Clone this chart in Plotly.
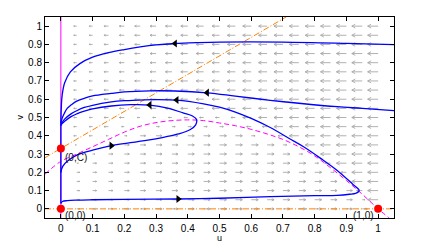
import plotly.graph_objects as go
import numpy as np

# ---------------- data ----------------
tick_vals = [0, 0.1, 0.2, 0.3, 0.4, 0.5, 0.6, 0.7, 0.8, 0.9, 1.0]
tick_text = ["0", "0.1", "0.2", "0.3", "0.4", "0.5", "0.6", "0.7", "0.8", "0.9", "1"]

# u-nullcline (magenta dashed curve)
null_u = [-0.05, 0.0, 0.05, 0.1, 0.15, 0.2, 0.25, 0.3, 0.35, 0.4, 0.45, 0.5, 0.55,
          0.6, 0.65, 0.7, 0.75, 0.8, 0.85, 0.9, 0.95, 1.0, 1.035]
null_v = [0.19, 0.26, 0.30, 0.34, 0.38, 0.42, 0.452, 0.472, 0.483, 0.487, 0.483, 0.47, 0.455,
          0.435, 0.41, 0.38, 0.34, 0.29, 0.225, 0.155, 0.08, 0.0, -0.05]

# v-nullcline (orange dash-dot line) end points
orange_u = [-0.05, 0.71]
orange_v = [0.28, 1.05]

# equilibria
eq_u = [0.0, 0.0, 1.0]
eq_v = [0.0, 0.33, 0.0]
eq_lab = ["(0,0)", "(0,C)", "(1,0)"]

# trajectories (blue)
trajA_u = [1.05, 0.9, 0.7, 0.5, 0.43, 0.36, 0.3, 0.25, 0.2, 0.15, 0.1, 0.06, 0.03, 0.012, 0.004, 0.001, 0.0]
trajA_v = [0.899, 0.906, 0.913, 0.913, 0.91, 0.905, 0.897, 0.886, 0.872, 0.855, 0.83, 0.795, 0.75, 0.69, 0.62, 0.54, 0.47]

trajB_u = [1.055, 0.95, 0.871, 0.75, 0.66, 0.55, 0.461, 0.36, 0.28, 0.2, 0.159, 0.1, 0.074, 0.05, 0.032, 0.02, 0.011, 0.004, 0.0]
trajB_v = [0.537, 0.55, 0.559, 0.578, 0.594, 0.617, 0.635, 0.645, 0.646, 0.64, 0.632, 0.618, 0.605, 0.59, 0.568, 0.55, 0.523, 0.495, 0.469]

trajE_u = [0.0, 0.005, 0.02, 0.05, 0.1, 0.2, 0.37, 0.5, 0.66, 0.8, 0.871, 0.91, 0.929, 0.939, 0.94,
           0.92, 0.871, 0.82, 0.765, 0.72, 0.66, 0.6, 0.55, 0.5, 0.45, 0.365, 0.3, 0.264, 0.2, 0.159,
           0.1, 0.074, 0.05, 0.032, 0.011, 0.003, 0.0]
trajE_v = [0.03, 0.04, 0.045, 0.048, 0.05, 0.052, 0.054, 0.058, 0.067, 0.072, 0.074, 0.08, 0.085, 0.095, 0.103,
           0.135, 0.21, 0.275, 0.34, 0.385, 0.445, 0.495, 0.53, 0.557, 0.575, 0.595, 0.598, 0.597, 0.592, 0.585,
           0.567, 0.555, 0.537, 0.52, 0.49, 0.47, 0.46]

trajD_u = [0.0, 0.002, 0.006, 0.02, 0.053, 0.106, 0.159, 0.21, 0.264, 0.32, 0.37, 0.407, 0.425, 0.428,
           0.415, 0.385, 0.34, 0.28, 0.22, 0.159, 0.1, 0.074, 0.05, 0.032, 0.011, 0.003, 0.0]
trajD_v = [0.198, 0.215, 0.233, 0.26, 0.297, 0.324, 0.346, 0.36, 0.373, 0.39, 0.41, 0.433, 0.46, 0.487,
           0.508, 0.525, 0.55, 0.568, 0.57, 0.563, 0.547, 0.535, 0.52, 0.505, 0.478, 0.465, 0.455]

axis_u = [0.0, 0.0]
axis_v = [0.03, 0.47]

# direction markers on trajectories
mark_u = [0.36, 0.461, 0.365, 0.28, 0.159, 0.37]
mark_v = [0.905, 0.636, 0.596, 0.569, 0.346, 0.054]
mark_sym = ["triangle-left", "triangle-left", "triangle-left", "triangle-left", "triangle-right", "triangle-right"]

# direction-field grid and arrow lengths (pixels) per column
grid_u = [0.0, 0.05, 0.1, 0.15, 0.2, 0.25, 0.3, 0.35, 0.4, 0.45, 0.5, 0.55, 0.6, 0.65, 0.7,
          0.75, 0.8, 0.85, 0.9, 0.95, 1.0]
grid_v = [0.0, 0.05, 0.1, 0.15, 0.2, 0.25, 0.3, 0.35, 0.4, 0.45, 0.5, 0.55, 0.6, 0.65, 0.7,
          0.75, 0.8, 0.85, 0.9, 0.95, 1.0]
len_above = [0, 3, 3.5, 4.5, 5, 5.5, 6, 6.5, 7, 7.5, 7.5, 8, 8.5, 8.5, 9, 9.5, 9.5, 10, 10, 10.5, 10.5]
len_below = [0, 3, 4, 4.5, 5, 5.5, 6, 6, 6.5, 6.5, 7, 7, 7, 7, 7, 7, 7, 6.5, 6, 5, 0]

# ---------------- layout geometry ----------------
# page body has an 8px default margin, so the figure is offset by 8px
OFF = 8
W, H = 425 - OFF, 242 - OFF
ML, MT = 45 - OFF, 16 - OFF
PW, PH = 349.5, 203.6
MR = W - ML - PW
MB = H - MT - PH
sx = PW / 1.1
sy = PH / 1.1

FONT = "Liberation Sans, Arial"

fig = go.Figure()

# direction field
xs, ys = [], []
for i, u in enumerate(grid_u):
    for v in grid_v:
        m = float(np.interp(u, null_u, null_v))
        d = v - m
        if abs(d) < 0.012:
            continue
        L = len_above[i] if d > 0 else len_below[i]
        if abs(d) < 0.05:
            L *= 0.55
        if L <= 0:
            continue
        s = -1.0 if d > 0 else 1.0
        tip = u + s * L / sx
        hl = 0.33 * L
        hw = 0.18 * L
        back = tip - s * hl / sx
        xs += [u, tip, None, back, tip, back, None]
        ys += [v, v, None, v + hw / sy, v, v - hw / sy, None]

fig.add_trace(go.Scatter(x=xs, y=ys, mode="lines",
                         line=dict(color="#a8a8a8", width=0.9), hoverinfo="skip", showlegend=False))

# nullclines
fig.add_trace(go.Scatter(x=[0, 0], y=[-0.05, 1.05], mode="lines",
                         line=dict(color="#ff00ff", width=1), showlegend=False))
fig.add_trace(go.Scatter(x=null_u, y=null_v, mode="lines", line_shape="spline",
                         line=dict(color="#ff00ff", width=1, dash="5px,3px"), showlegend=False))
fig.add_trace(go.Scatter(x=[-0.05, 1.05], y=[0, 0], mode="lines",
                         line=dict(color="#ff8000", width=1, dash="6px,2px,1px,2px"), showlegend=False))
fig.add_trace(go.Scatter(x=orange_u, y=orange_v, mode="lines",
                         line=dict(color="#ff8000", width=1, dash="6px,2px,1px,2px"), showlegend=False))

# trajectories
for tu, tv in [(trajA_u, trajA_v), (trajB_u, trajB_v), (trajE_u, trajE_v), (trajD_u, trajD_v), (axis_u, axis_v)]:
    fig.add_trace(go.Scatter(x=tu, y=tv, mode="lines", line_shape="spline",
                             line=dict(color="#0000ff", width=1.3), showlegend=False))

fig.add_trace(go.Scatter(x=mark_u, y=mark_v, mode="markers",
                         marker=dict(symbol=mark_sym, size=7, color="black"), showlegend=False))

# equilibria
fig.add_trace(go.Scatter(x=eq_u, y=eq_v, mode="markers", cliponaxis=False,
                         marker=dict(size=8, color="#ff0000"), showlegend=False))

ann = []
offs = [(2, 1, "left"), (2, -1, "left"), (-2, 1, "right")]
for (u, v, t), (dx, dy, xa) in zip(zip(eq_u, eq_v, eq_lab), offs):
    ann.append(dict(x=u, y=v, text=t, showarrow=False, xanchor=xa, yanchor="top",
                    xshift=dx, yshift=dy, font=dict(size=10, color="#111111", family=FONT)))
ann.append(dict(x=0.5, y=0, xref="paper", yref="paper", text="u", showarrow=False,
                yshift=-13, yanchor="top", font=dict(size=9, color="black", family=FONT)))
ann.append(dict(x=0, y=0.5, xref="paper", yref="paper", text="v", showarrow=False, textangle=-90,
                xshift=-19, xanchor="right", font=dict(size=9, color="black", family=FONT)))

axis_common = dict(range=[-0.05, 1.05], tickvals=tick_vals, ticktext=tick_text,
                   showgrid=False, zeroline=False, showline=True, linecolor="black", linewidth=1,
                   mirror="ticks", ticks="inside", ticklen=4, tickcolor="black",
                   tickfont=dict(size=10, color="black", family=FONT))

fig.update_layout(
    width=W, height=H,
    margin=dict(l=ML, r=MR, t=MT, b=MB),
    paper_bgcolor="white", plot_bgcolor="white",
    xaxis=dict(**axis_common, ticklabelstandoff=1),
    yaxis=dict(**axis_common),
    annotations=ann,
    showlegend=False,
)

fig.write_html("out.html")
